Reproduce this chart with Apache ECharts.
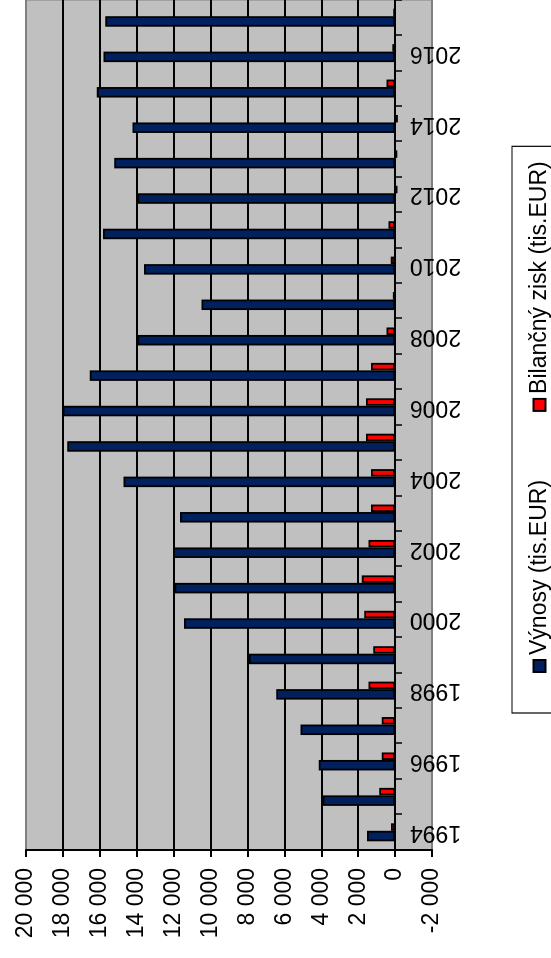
<!DOCTYPE html>
<html>
<head>
<meta charset="utf-8">
<script src="https://cdn.jsdelivr.net/npm/echarts@6/dist/echarts.min.js"></script>
<style>
  html, body { margin: 0; padding: 0; width: 551px; height: 958px; overflow: hidden; background: #fff; }
  #chart {
    position: absolute; left: 0; top: 0;
    width: 958px; height: 551px;
    transform-origin: 0 0;
    transform: translateY(958px) rotate(-90deg);
  }
</style>
</head>
<body>
<div id="chart"></div>
<script>
const years = ['1994','1995','1996','1997','1998','1999','2000','2001','2002','2003','2004','2005',
               '2006','2007','2008','2009','2010','2011','2012','2013','2014','2015','2016','2017'];
const vynosy = [1520, 3920, 4140, 5130, 6440, 7920, 11440, 11960, 12020, 11660, 14720, 17770,
                18010, 16550, 13960, 10490, 13600, 15830, 13960, 15220, 14230, 16160, 15800, 15700];
const zisk = [220, 860, 720, 720, 1440, 1190, 1670, 1800, 1440, 1310, 1310, 1580,
              1580, 1310, 470, 120, 230, 360, -130, -120, -150, 470, 150, 100];
const seriesNames = ['Výnosy (tis.EUR)', 'Bilančný zisk (tis.EUR)'];
const valueMin = -2000, valueMax = 20000, valueStep = 2000;

const FONT = '"Liberation Sans", Arial, sans-serif';
function fmt(v) {
  const s = Math.abs(v).toString().replace(/\B(?=(\d{3})+(?!\d))/g, ' ');
  return (v < 0 ? '-' : '') + s;
}
const nLines = Math.round((valueMax - valueMin) / valueStep) + 1;
const splitColors = [];
for (let i = 0; i < nLines; i++) splitColors.push(i === 0 || i === nLines - 1 ? '#808080' : '#000000');

const chart = echarts.init(document.getElementById('chart'), null, { renderer: 'canvas' });
chart.setOption({
  animation: false,
  backgroundColor: '#ffffff',
  textStyle: { fontFamily: FONT },
  grid: {
    left: 108, right: -2, top: 26, bottom: 119,
    show: true, backgroundColor: '#C0C0C0', borderColor: '#808080', borderWidth: 1
  },
  legend: {
    left: 245, top: 512,
    orient: 'horizontal',
    padding: [16, 15, 16, 40],
    icon: 'rect',
    itemWidth: 12, itemHeight: 12, itemGap: 68,
    borderColor: '#000', borderWidth: 1.2,
    backgroundColor: '#fff',
    textStyle: { fontSize: 23, color: '#000', fontFamily: FONT },
    data: seriesNames
  },
  xAxis: {
    type: 'category',
    data: years,
    axisLine: { onZero: true, lineStyle: { color: '#000', width: 1.5 } },
    axisTick: { show: true, interval: 0, length: 7, lineStyle: { color: '#000', width: 1.5 } },
    axisLabel: { interval: 1, rotate: 90, margin: -22, fontSize: 23, color: '#000', fontFamily: FONT },
    splitLine: { show: false }
  },
  yAxis: {
    type: 'value',
    min: valueMin, max: valueMax, interval: valueStep,
    axisLine: { show: true, lineStyle: { color: '#000', width: 2 } },
    axisTick: { show: true, length: 7, lineStyle: { color: '#000', width: 2 } },
    axisLabel: { margin: 18, fontSize: 23, color: '#000', fontFamily: FONT, formatter: fmt },
    splitLine: { show: true, lineStyle: { color: splitColors, width: 2 } }
  },
  series: [
    {
      name: seriesNames[0], type: 'bar', data: vynosy,
      barGap: '0%', barWidth: 10.5,
      itemStyle: { color: '#00215E', borderColor: '#000', borderWidth: 1.8 }
    },
    {
      name: seriesNames[1], type: 'bar', data: zisk,
      barGap: '0%', barWidth: 7.5,
      itemStyle: { color: '#FF0000', borderColor: '#000', borderWidth: 1.8 }
    }
  ]
});
</script>
</body>
</html>
